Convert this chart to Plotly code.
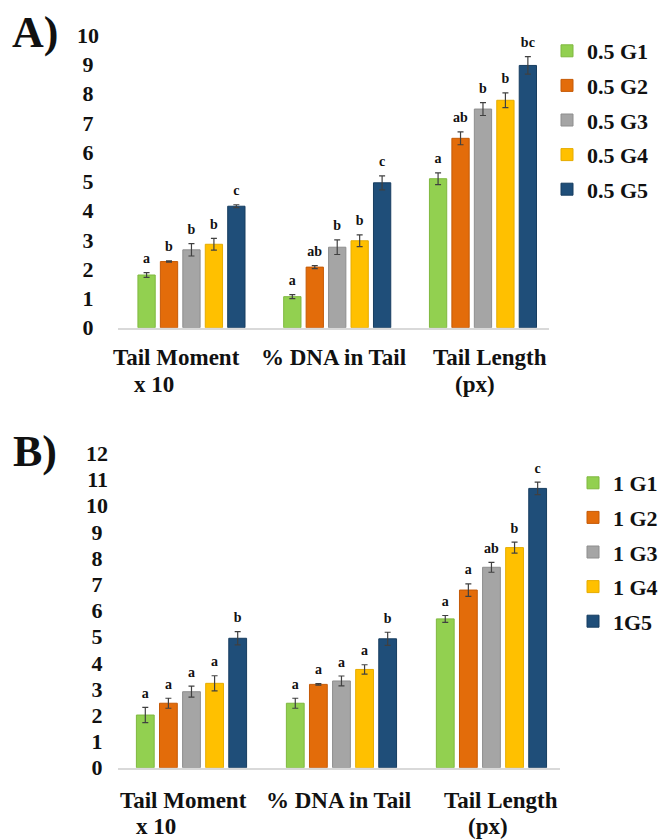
import plotly.graph_objects as go

# ---------------- data ----------------
categories = ["Tail Moment x 10", "% DNA in Tail", "Tail Length (px)"]
groups = ["G1", "G2", "G3", "G4", "G5"]

names_a = ["0.5 G1", "0.5 G2", "0.5 G3", "0.5 G4", "0.5 G5"]
g1_a = [1.80, 1.06, 5.09]
g2_a = [2.26, 2.07, 6.47]
g3_a = [2.66, 2.75, 7.47]
g4_a = [2.85, 2.97, 7.77]
g5_a = [4.15, 4.95, 8.96]
e1_a = [0.08, 0.07, 0.20]
e2_a = [0.02, 0.05, 0.22]
e3_a = [0.21, 0.25, 0.22]
e4_a = [0.20, 0.20, 0.25]
e5_a = [0.05, 0.24, 0.30]
l1_a = ["a", "a", "a"]
l2_a = ["b", "ab", "ab"]
l3_a = ["b", "b", "b"]
l4_a = ["b", "b", "b"]
l5_a = ["c", "c", "bc"]

names_b = ["1 G1", "1 G2", "1 G3", "1 G4", "1G5"]
g1_b = [2.01, 2.46, 5.68]
g2_b = [2.46, 3.18, 6.78]
g3_b = [2.90, 3.31, 7.65]
g4_b = [3.22, 3.75, 8.40]
g5_b = [4.94, 4.92, 10.66]
e1_b = [0.29, 0.19, 0.13]
e2_b = [0.19, 0.03, 0.24]
e3_b = [0.21, 0.19, 0.19]
e4_b = [0.29, 0.18, 0.21]
e5_b = [0.25, 0.25, 0.24]
l1_b = ["a", "a", "a"]
l2_b = ["a", "a", "a"]
l3_b = ["a", "a", "ab"]
l4_b = ["a", "a", "b"]
l5_b = ["b", "b", "c"]

yticks_a = list(range(0, 11))
yticks_b = list(range(0, 13))

# ---------------- styles ----------------
colors = ["#92d050", "#e36c0a", "#a5a5a5", "#ffc000", "#1f4e79"]
edges = ["#7fb83f", "#c55a06", "#8e8e8e", "#e6ac00", "#173d60"]
SERIF = "Liberation Serif"
TXT = "#111111"


def tick_text(v):
    # centre single digits under two-digit labels (half a digit of padding)
    s = str(v)
    return s + "\u2008" if len(s) == 1 else s


fig = go.Figure()

# (x axis, y axis, legend, names, values, errors, letters, label padding in data units)
panels = [
    ("x", "y", "legend", names_a,
     [g1_a, g2_a, g3_a, g4_a, g5_a], [e1_a, e2_a, e3_a, e4_a, e5_a],
     [l1_a, l2_a, l3_a, l4_a, l5_a], 0.12),
    ("x2", "y2", "legend2", names_b,
     [g1_b, g2_b, g3_b, g4_b, g5_b], [e1_b, e2_b, e3_b, e4_b, e5_b],
     [l1_b, l2_b, l3_b, l4_b, l5_b], 0.13),
]

for xa, ya, leg, names, vals, errs, letters, pad in panels:
    for i in range(5):
        fig.add_trace(go.Bar(
            x=categories, y=vals[i], name=names[i],
            xaxis=xa, yaxis=ya, legend=leg, legendgroup=leg + groups[i],
            offsetgroup=groups[i],
            marker=dict(color=colors[i], line=dict(color=edges[i], width=1)),
            error_y=dict(type="data", array=errs[i], visible=True,
                         color="#404040", thickness=1.2, width=3),
        ))
    for i in range(5):
        tops = [v + e + pad for v, e in zip(vals[i], errs[i])]
        fig.add_trace(go.Bar(
            x=categories, y=tops, xaxis=xa, yaxis=ya,
            offsetgroup=groups[i], showlegend=False, hoverinfo="skip",
            marker=dict(color="rgba(0,0,0,0)", line=dict(width=0)),
            text=letters[i], textposition="outside", cliponaxis=False,
            constraintext="none",
            outsidetextfont=dict(family=SERIF, size=14, color=TXT, weight="bold"),
        ))

tickfont = dict(family=SERIF, size=22, color=TXT, weight="bold")
xcommon = dict(showticklabels=False, showline=True, linecolor="#d9d9d9",
               linewidth=2, ticks="", showgrid=False, zeroline=False,
               automargin=False)
ycommon = dict(showgrid=False, zeroline=False, showline=False, ticks="",
               tickfont=tickfont, tickmode="array", automargin=False)

H = 839.0
W = 662.0
legfont = dict(family=SERIF, size=22, color=TXT, weight="bold")
fig.update_layout(
    width=662, height=839,
    margin=dict(l=0, r=0, t=0, b=0, autoexpand=False),
    paper_bgcolor="white", plot_bgcolor="white",
    barmode="group", bargap=0.23, bargroupgap=0.23,
    xaxis=dict(domain=[118 / W, 549 / W], anchor="y", range=[-0.504, 2.453], **xcommon),
    yaxis=dict(domain=[1 - 327.7 / H, 1 - 35 / H], anchor="x", range=[0, 10],
               tickvals=yticks_a, ticktext=[tick_text(v) for v in yticks_a],
               ticklabelstandoff=18, **ycommon),
    xaxis2=dict(domain=[118 / W, 560 / W], anchor="y2", range=[-0.49, 2.457], **xcommon),
    yaxis2=dict(domain=[1 - 767.7 / H, 1 - 453.3 / H], anchor="x2", range=[0, 12],
                tickvals=yticks_b, ticktext=[tick_text(v) for v in yticks_b],
                ticklabelstandoff=9, **ycommon),
    legend=dict(x=547 / W, xanchor="left", y=1 - 30 / H, yanchor="top",
                font=legfont, tracegroupgap=3, bgcolor="rgba(0,0,0,0)"),
    legend2=dict(x=573 / W, xanchor="left", y=1 - 462 / H, yanchor="top",
                 font=legfont, tracegroupgap=3, bgcolor="rgba(0,0,0,0)"),
    showlegend=True,
)

labfont = dict(family=SERIF, size=23, color=TXT, weight="bold")
ann = []
# panel letters
ann.append(dict(text="A)", x=35 / W, y=1 - 33 / H, xref="paper", yref="paper",
                xanchor="center", yanchor="middle", showarrow=False,
                font=dict(family=SERIF, size=44, color=TXT, weight="bold")))
ann.append(dict(text="B)", x=35 / W, y=1 - 451 / H, xref="paper", yref="paper",
                xanchor="center", yanchor="middle", showarrow=False,
                font=dict(family=SERIF, size=44, color=TXT, weight="bold")))

# category labels
cat_lines_a = [("Tail Moment", categories[0], -15, 357), ("x 10", categories[0], -37, 384),
               ("% DNA in Tail", categories[1], -4, 357),
               ("Tail Length", categories[2], 7, 357), ("(px)", categories[2], -8, 384)]
cat_lines_b = [("Tail Moment", categories[0], -8, 800), ("x 10", categories[0], -35, 826),
               ("% DNA in Tail", categories[1], -3, 800),
               ("Tail Length", categories[2], 10, 800), ("(px)", categories[2], -3, 826)]
for xr, lines in (("x", cat_lines_a), ("x2", cat_lines_b)):
    for txt, cat, dx, ypix in lines:
        ann.append(dict(text=txt, x=cat, xref=xr, y=1 - ypix / H, yref="paper",
                        xshift=dx, showarrow=False, xanchor="center", yanchor="middle",
                        font=labfont))
fig.update_layout(annotations=ann)

fig.write_html("out.html", config={"displayModeBar": False},
               post_script="document.body.style.margin='0px';document.body.style.overflow='hidden';")
